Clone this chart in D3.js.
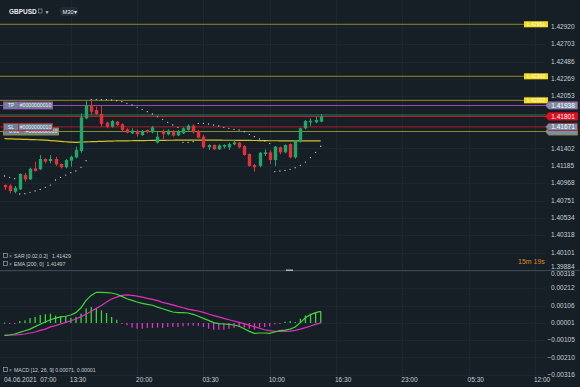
<!DOCTYPE html>
<html>
<head>
<meta charset="utf-8">
<script src="https://cdn.jsdelivr.net/npm/d3@7"></script>
<style>
  body { margin: 0; background: #161e26; }
  svg { display: block; font-family: "Liberation Sans", Arial, sans-serif; }
</style>
</head>
<body>
<div id="chart"></div>
<script>
const width = 580, height = 387;

// 30 min bars, bar 0 = 04.06.2021 07:00
const opens = [1.40945,1.40937,1.40862,1.40891,1.41070,1.41016,1.41153,1.41141,1.41270,1.41245,1.41270,1.41208,1.41166,1.41249,1.41291,1.41370,1.41777,1.41944,1.41881,1.41832,1.41723,1.41673,1.41736,1.41703,1.41640,1.41590,1.41619,1.41569,1.41632,1.41603,1.41474,1.41615,1.41578,1.41615,1.41565,1.41590,1.41632,1.41686,1.41619,1.41549,1.41416,1.41445,1.41391,1.41424,1.41416,1.41453,1.41474,1.41432,1.41332,1.41195,1.41183,1.41332,1.41353,1.41257,1.41416,1.41353,1.41457,1.41291,1.41486,1.41653,1.41728,1.41728,1.41736];
const highs = [1.40954,1.40954,1.40933,1.41091,1.41099,1.41162,1.41237,1.41320,1.41278,1.41320,1.41299,1.41216,1.41270,1.41312,1.41424,1.41840,1.42006,1.42006,1.41923,1.41931,1.41736,1.41757,1.41744,1.41715,1.41653,1.41653,1.41640,1.41632,1.41640,1.41682,1.41611,1.41640,1.41640,1.41632,1.41632,1.41665,1.41703,1.41703,1.41632,1.41569,1.41453,1.41453,1.41453,1.41453,1.41474,1.41499,1.41482,1.41445,1.41341,1.41208,1.41357,1.41391,1.41382,1.41432,1.41424,1.41453,1.41465,1.41507,1.41661,1.41757,1.41777,1.41798,1.41832];
const lows = [1.40883,1.40841,1.40841,1.40883,1.40987,1.41008,1.41112,1.41133,1.41216,1.41216,1.41183,1.41153,1.41153,1.41174,1.41278,1.41349,1.41765,1.41819,1.41819,1.41673,1.41653,1.41661,1.41682,1.41611,1.41590,1.41582,1.41549,1.41557,1.41590,1.41590,1.41465,1.41515,1.41565,1.41549,1.41557,1.41582,1.41624,1.41590,1.41528,1.41403,1.41382,1.41382,1.41382,1.41403,1.41382,1.41440,1.41403,1.41312,1.41174,1.41112,1.41166,1.41307,1.41208,1.41183,1.41328,1.41341,1.41278,1.41274,1.41474,1.41640,1.41682,1.41715,1.41728];
const closes = [1.40916,1.40871,1.40912,1.41083,1.41016,1.41149,1.41120,1.41270,1.41237,1.41270,1.41203,1.41166,1.41257,1.41299,1.41382,1.41790,1.41944,1.41861,1.41832,1.41707,1.41673,1.41744,1.41694,1.41632,1.41599,1.41624,1.41578,1.41619,1.41603,1.41665,1.41549,1.41582,1.41624,1.41561,1.41615,1.41653,1.41686,1.41603,1.41536,1.41416,1.41445,1.41391,1.41440,1.41445,1.41457,1.41478,1.41416,1.41320,1.41183,1.41166,1.41349,1.41353,1.41257,1.41424,1.41353,1.41445,1.41291,1.41499,1.41653,1.41744,1.41748,1.41757,1.41801];

const sar = [1.41058,1.41041,1.41024,1.40833,1.40837,1.40854,1.40871,1.40891,1.40916,1.40945,1.41008,1.41041,1.41070,1.41099,1.41120,1.41166,1.41249,1.42015,1.42015,1.42010,1.42010,1.42006,1.41998,1.41985,1.41965,1.41944,1.41915,1.41890,1.41861,1.41832,1.41798,1.41765,1.41728,1.41694,1.41665,1.41478,1.41478,1.41486,1.41715,1.41715,1.41707,1.41694,1.41682,1.41665,1.41653,1.41640,1.41632,1.41611,1.41578,1.41549,1.41520,1.41495,1.41465,1.41112,1.41120,1.41128,1.41141,1.41162,1.41191,1.41232,1.41286,1.41353,1.41429];
const ema = [1.41524,1.41522,1.41519,1.41517,1.41515,1.41513,1.41511,1.41509,1.41505,1.41500,1.41495,1.41490,1.41485,1.41480,1.41478,1.41480,1.41484,1.41486,1.41488,1.41490,1.41492,1.41494,1.41495,1.41496,1.41497,1.41498,1.41499,1.41500,1.41501,1.41502,1.41503,1.41503,1.41504,1.41504,1.41505,1.41505,1.41506,1.41506,1.41506,1.41506,1.41505,1.41505,1.41505,1.41504,1.41504,1.41504,1.41503,1.41503,1.41502,1.41501,1.41500,1.41499,1.41498,1.41498,1.41497,1.41497,1.41496,1.41496,1.41496,1.41496,1.41496,1.41497,1.41497];

const macd = [-0.00075,-0.00073,-0.00067,-0.00057,-0.00047,-0.00037,-0.00022,-0.00008,0.00006,0.00020,0.00030,0.00037,0.00041,0.00049,0.00063,0.00093,0.00138,0.00168,0.00187,0.00187,0.00185,0.00183,0.00175,0.00162,0.00148,0.00138,0.00128,0.00120,0.00114,0.00108,0.00097,0.00087,0.00077,0.00067,0.00063,0.00063,0.00061,0.00053,0.00041,0.00028,0.00016,0.00002,-0.00004,-0.00006,-0.00008,-0.00012,-0.00020,-0.00035,-0.00051,-0.00063,-0.00061,-0.00061,-0.00063,-0.00055,-0.00047,-0.00043,-0.00037,-0.00024,0.00002,0.00032,0.00051,0.00063,0.00071];
const signal = [-0.00075,-0.00073,-0.00073,-0.00071,-0.00067,-0.00061,-0.00055,-0.00045,-0.00037,-0.00024,-0.00016,-0.00006,0.00004,0.00014,0.00024,0.00039,0.00053,0.00071,0.00089,0.00106,0.00128,0.00146,0.00158,0.00168,0.00171,0.00168,0.00164,0.00158,0.00150,0.00144,0.00136,0.00126,0.00118,0.00110,0.00101,0.00093,0.00085,0.00079,0.00073,0.00065,0.00055,0.00045,0.00037,0.00028,0.00020,0.00012,0.00004,-0.00004,-0.00014,-0.00022,-0.00032,-0.00041,-0.00047,-0.00051,-0.00051,-0.00051,-0.00049,-0.00045,-0.00037,-0.00028,-0.00018,-0.00008,0.00001];
const hist = [0.00002,-0.00002,-0.00002,0.00012,0.00016,0.00030,0.00037,0.00049,0.00053,0.00057,0.00045,0.00041,0.00041,0.00032,0.00037,0.00057,0.00089,0.00097,0.00089,0.00077,0.00061,0.00037,0.00020,-0.00002,-0.00014,-0.00028,-0.00035,-0.00035,-0.00030,-0.00030,-0.00028,-0.00030,-0.00024,-0.00024,-0.00024,-0.00020,-0.00016,-0.00016,-0.00018,-0.00024,-0.00035,-0.00041,-0.00041,-0.00041,-0.00035,-0.00030,-0.00024,-0.00028,-0.00035,-0.00041,-0.00028,-0.00024,-0.00020,-0.00008,-0.00002,0.00008,0.00012,0.00006,0.00026,0.00045,0.00057,0.00061,0.00071];

const priceTicks = [1.39884,1.40101,1.40318,1.40534,1.40751,1.40968,1.41185,1.41402,1.41619,1.41836,1.42053,1.42269,1.42486,1.42703,1.42920];
const macdTicks = [0.00318,0.00212,0.00106,0.00001,-0.00105,-0.00210,-0.00316];
const timeTickBars = [13, 26, 39, 52, 65, 78, 91, 104];
const timeTickLabels = ['13:30','20:00','03:30','10:00','16:30','23:00','05:30','12:00'];

const alertLevels = [1.42951, 1.42302, 1.42002]; // the yellow ones
const tpLevel = 1.41938, askLevel = 1.41819, bidLevel = 1.41801, slLevel = 1.41671, orderLevel = 1.41613;

const fmt = d3.format('.5f');
const green = '#22a568', red = '#e0323c';

const svg = d3.select('#chart').append('svg').attr('width', width).attr('height', height);
svg.append('rect').attr('width', width).attr('height', height).attr('fill', '#161e26');

const x = d3.scaleLinear().domain([0, 104]).range([4.5, 534.9]);
const y = d3.scaleLinear().domain([1.39885, 1.43254]).range([270, 0]);
const ym = d3.scaleLinear().domain([-0.00323, 0.00323]).range([376, 270]);
const plotRight = 545;
const bars = d3.range(opens.length);

// grid, very faint
const grid = svg.append('g').attr('stroke', '#1d2731').attr('stroke-width', 1);
grid.selectAll('.vg').data(timeTickBars).join('line')
  .attr('x1', d => Math.round(x(d)) + 0.5).attr('x2', d => Math.round(x(d)) + 0.5)
  .attr('y1', 0).attr('y2', 376);
grid.selectAll('.hg').data(priceTicks).join('line')
  .attr('x1', 0).attr('x2', plotRight)
  .attr('y1', d => Math.round(y(d)) + 0.5).attr('y2', d => Math.round(y(d)) + 0.5);
grid.selectAll('.mg').data(macdTicks).join('line')
  .attr('x1', 0).attr('x2', plotRight)
  .attr('y1', d => Math.round(ym(d)) + 0.5).attr('y2', d => Math.round(ym(d)) + 0.5);

// pane separator + the little drag handle
svg.append('line').attr('x1', 0).attr('x2', width).attr('y1', 270.5).attr('y2', 270.5).attr('stroke', '#3a4652');
svg.append('rect').attr('x', 286).attr('y', 269.5).attr('width', 7).attr('height', 1.5).attr('fill', '#aab2ba');

// horizontal level lines
svg.append('g').selectAll('line').data(alertLevels).join('line')
  .attr('x1', 0).attr('x2', 524)
  .attr('y1', d => y(d)).attr('y2', d => y(d))
  .attr('stroke', '#8c8a2c').attr('stroke-width', 1);

const hline = (p, color, x2) => svg.append('line')
  .attr('x1', 0).attr('x2', x2).attr('y1', y(p)).attr('y2', y(p))
  .attr('stroke', color).attr('stroke-width', 1);
hline(orderLevel, '#8c8a2c', 546);
hline(slLevel, '#a8202c', 546);
hline(askLevel, '#1e7a4c', 546);
hline(bidLevel, '#c81e2a', 546);
hline(tpLevel, '#9a4aaa', 546);

// EMA 200
svg.append('path').datum(bars)
  .attr('fill', 'none').attr('stroke', '#d4c422').attr('stroke-width', 1.2)
  .attr('d', d3.line().x(i => x(i)).y(i => y(ema[i])).curve(d3.curveMonotoneX));

// candles
const candles = svg.append('g').selectAll('g').data(bars).join('g');
candles.append('line')
  .attr('x1', i => Math.round(x(i)) + 0.5).attr('x2', i => Math.round(x(i)) + 0.5)
  .attr('y1', i => y(highs[i])).attr('y2', i => y(lows[i]))
  .attr('stroke', i => closes[i] >= opens[i] ? green : red);
candles.append('rect')
  .attr('x', i => Math.round(x(i)) - 1.2).attr('width', 3.4)
  .attr('y', i => y(Math.max(opens[i], closes[i])))
  .attr('height', i => Math.max(1, Math.abs(y(opens[i]) - y(closes[i]))))
  .attr('fill', i => closes[i] >= opens[i] ? green : red);

// parabolic SAR dots
svg.append('g').selectAll('circle').data(bars).join('circle')
  .attr('cx', i => x(i)).attr('cy', i => y(sar[i])).attr('r', 0.65)
  .attr('fill', '#d0d4d8');

// MACD pane
svg.append('g').selectAll('rect').data(bars).join('rect')
  .attr('x', i => x(i) - 0.6).attr('width', 1.3)
  .attr('y', i => Math.min(ym(0), ym(hist[i])))
  .attr('height', i => Math.max(1, Math.abs(ym(hist[i]) - ym(0))))
  .attr('fill', i => hist[i] >= 0 ? '#3fd13f' : '#e233c0');
svg.append('path').datum(bars)
  .attr('fill', 'none').attr('stroke', '#e22fbe').attr('stroke-width', 1.2)
  .attr('d', d3.line().x(i => x(i)).y(i => ym(signal[i])));
svg.append('path').datum(bars)
  .attr('fill', 'none').attr('stroke', '#3fd63a').attr('stroke-width', 1.2)
  .attr('d', d3.line().x(i => x(i)).y(i => ym(macd[i])));

// right axis labels - the ones sitting under a price tag are hidden in the original anyway
const axisText = '#c9ced4';
const tagLevels = [bidLevel, slLevel, orderLevel];
const visibleTicks = priceTicks.filter(p => !tagLevels.some(t => Math.abs(y(t) - y(p)) < 4));
svg.append('g').selectAll('text').data(visibleTicks).join('text')
  .attr('x', 551).attr('y', d => Math.min(y(d), 266.5) + 2.2)
  .attr('font-size', 6.5).attr('fill', axisText).text(fmt);
svg.append('g').selectAll('text').data(macdTicks).join('text')
  .attr('x', d => d < 0 ? 547.5 : 551).attr('y', d => Math.max(ym(d), 273.5) + 2.2)
  .attr('font-size', 6.5).attr('fill', axisText).text(fmt);

// yellow alert tags
const ytag = svg.append('g').selectAll('g').data(alertLevels).join('g');
ytag.append('rect').attr('x', 524).attr('y', d => y(d) - 3).attr('width', 24).attr('height', 6).attr('fill', '#f2dc1c');
ytag.append('text').attr('x', 536).attr('y', d => y(d) + 1.8).attr('text-anchor', 'middle')
  .attr('font-size', 5.2).attr('fill', '#fffbe6').text(fmt);

// price tags with the little pointer on the left
function tag(p, fill, stroke, showText) {
  const yy = y(p);
  const g = svg.append('g');
  g.append('path')
    .attr('d', `M545.5,${yy} L548.5,${yy - 3.6} L577.5,${yy - 3.6} L577.5,${yy + 3.6} L548.5,${yy + 3.6} Z`)
    .attr('fill', fill).attr('stroke', stroke).attr('stroke-width', 0.8);
  if (showText) {
    g.append('text').attr('x', 563).attr('y', yy + 2.3).attr('text-anchor', 'middle')
      .attr('font-size', 6.5).attr('fill', '#ffffff').text(fmt(p));
  }
}
tag(orderLevel, '#7b90a4', '#8c8a2c', false); // mostly covered by the SL tag
tag(slLevel, '#7b90a4', '#a8202c', true);
tag(bidLevel, '#e0101e', '#e0101e', true);
tag(tpLevel, '#7b90a4', '#9a4aaa', true);

// order boxes on the left side
function orderBox(p, label, split, w, stroke) {
  const yy = y(p);
  const g = svg.append('g');
  g.append('rect').attr('x', 3.5).attr('y', yy - 3.5).attr('width', w).attr('height', 7)
    .attr('fill', '#6d8297').attr('stroke', stroke).attr('stroke-width', 0.9);
  g.append('line').attr('x1', 3.5 + split).attr('x2', 3.5 + split).attr('y1', yy - 3.5).attr('y2', yy + 3.5)
    .attr('stroke', stroke).attr('stroke-width', 0.9);
  g.append('text').attr('x', 3.5 + split / 2).attr('y', yy + 1.9).attr('text-anchor', 'middle')
    .attr('font-size', 5.2).attr('fill', '#e8eef4').text(label);
  g.append('text').attr('x', 3.5 + split + (w - split) / 2).attr('y', yy + 1.9).attr('text-anchor', 'middle')
    .attr('font-size', 5.2).attr('fill', '#e8eef4').text('#0000000010');
}
orderBox(orderLevel, '0.01', 21, 55, '#9a9830');
orderBox(slLevel, 'SL', 15, 49, '#c02432');
orderBox(tpLevel, 'TP', 15, 49, '#a14fb6');

// time axis
svg.append('g').selectAll('text').data(timeTickBars).join('text')
  .attr('x', d => x(d) - 1).attr('y', 382)
  .attr('font-size', 6.5).attr('fill', axisText)
  .text((d, i) => timeTickLabels[i]);
svg.append('text').attr('x', 4).attr('y', 382).attr('font-size', 6.5).attr('fill', axisText)
  .attr('xml:space', 'preserve').text('04.06.2021  07:00');

// indicator legends
function legend(yy, txt) {
  svg.append('rect').attr('x', 3.5).attr('y', yy - 4.5).attr('width', 4).attr('height', 4)
    .attr('fill', 'none').attr('stroke', '#9aa3ad').attr('stroke-width', 0.7);
  svg.append('text').attr('x', 9).attr('y', yy).attr('font-size', 5).attr('fill', '#9aa3ad').text('×');
  svg.append('text').attr('x', 14).attr('y', yy).attr('font-size', 5.2).attr('fill', axisText)
    .attr('xml:space', 'preserve').text(txt);
}
legend(258, 'SAR [0.02,0.2]   1.41429');
legend(266, 'EMA [200, 0]  1.41497');
legend(372, 'MACD [12, 26, 9] 0.00071, 0.00001');

// countdown
svg.append('text').attr('x', 518).attr('y', 264).attr('font-size', 7).attr('fill', '#de8c1c').text('15m 19s');

// header
svg.append('text').attr('x', 9).attr('y', 13.5).attr('font-size', 6.5).attr('font-weight', 'bold')
  .attr('fill', '#e6eaee').text('GBPUSD');
svg.append('rect').attr('x', 38.5).attr('y', 9).attr('width', 3.5).attr('height', 4)
  .attr('fill', 'none').attr('stroke', '#8a939c').attr('stroke-width', 0.7);
svg.append('text').attr('x', 44.5).attr('y', 13.5).attr('font-size', 5).attr('fill', '#c0c6cc').text('▼');
svg.append('rect').attr('x', 60).attr('y', 7).attr('width', 18).attr('height', 9).attr('rx', 2).attr('fill', '#212b35');
svg.append('text').attr('x', 62.5).attr('y', 13.5).attr('font-size', 5.8).attr('fill', '#e6eaee').text('M30▾');
</script>
</body>
</html>
